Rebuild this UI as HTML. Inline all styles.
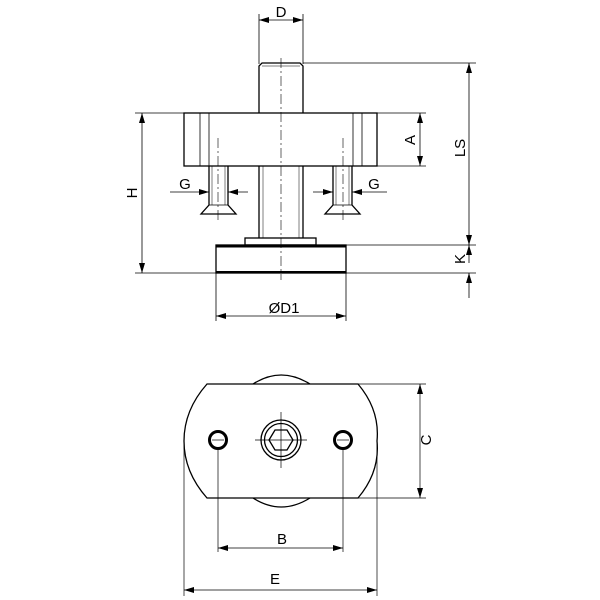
<!DOCTYPE html>
<html><head><style>html,body{margin:0;padding:0;background:#fff}svg{display:block}</style></head><body>
<svg width="600" height="600" viewBox="0 0 600 600" xmlns="http://www.w3.org/2000/svg" font-family="Liberation Sans, sans-serif">
<defs>
<marker id="a" viewBox="0 0 10 6" refX="10" refY="3" markerWidth="10" markerHeight="6" orient="auto-start-reverse" markerUnits="userSpaceOnUse"><path d="M0,0 L10,3 L0,6z" fill="#000"/></marker>
</defs>
<g stroke="#000" fill="none" stroke-width="0.8">
<line x1="259" y1="14" x2="259" y2="64"/><line x1="303" y1="14" x2="303" y2="64"/>
<line x1="303" y1="63" x2="476" y2="63"/>
<line x1="135" y1="113" x2="184" y2="113"/><line x1="377" y1="113" x2="426" y2="113"/>
<line x1="377" y1="166" x2="426" y2="166"/>
<line x1="135" y1="273" x2="476" y2="273"/>
<line x1="346" y1="245" x2="476" y2="245"/>
<line x1="216" y1="273" x2="216" y2="321"/><line x1="346" y1="273" x2="346" y2="321"/>
<line x1="259" y1="20" x2="303" y2="20" marker-start="url(#a)" marker-end="url(#a)"/>
<line x1="142" y1="113" x2="142" y2="273" marker-start="url(#a)" marker-end="url(#a)"/>
<line x1="420" y1="113" x2="420" y2="166" marker-start="url(#a)" marker-end="url(#a)"/>
<line x1="469" y1="63" x2="469" y2="245" marker-start="url(#a)" marker-end="url(#a)"/>
<line x1="469" y1="245" x2="469" y2="263" marker-start="url(#a)"/>
<line x1="469" y1="298" x2="469" y2="273" marker-end="url(#a)"/>
<line x1="216" y1="316" x2="346" y2="316" marker-start="url(#a)" marker-end="url(#a)"/>
<line x1="170" y1="192" x2="209" y2="192" marker-end="url(#a)"/><line x1="248" y1="192" x2="228" y2="192" marker-end="url(#a)"/>
<line x1="313" y1="192" x2="333" y2="192" marker-end="url(#a)"/><line x1="387" y1="192" x2="352" y2="192" marker-end="url(#a)"/>
</g>
<g stroke="#000" fill="none" stroke-width="1.3">
<path d="M259,113 V66 L262,63 H300 L303,66 V113"/>
<line x1="262" y1="66" x2="300" y2="66" stroke-width="0.6"/>
<rect x="184" y="113" width="193" height="53"/>
<line x1="259" y1="166" x2="259" y2="238"/><line x1="303" y1="166" x2="303" y2="238"/>
<rect x="245" y="238" width="71" height="7"/>
<rect x="216" y="245" width="130" height="28"/>
<line x1="216" y1="246.5" x2="346" y2="246.5" stroke-width="2"/>
<line x1="216" y1="272" x2="346" y2="272" stroke-width="2"/>
<path d="M209,166 V205 L201,214 H236 L228,205 V166"/><line x1="209" y1="205" x2="228" y2="205" stroke-width="0.8"/>
<path d="M333,166 V205 L325,214 H360 L352,205 V166"/><line x1="333" y1="205" x2="352" y2="205" stroke-width="0.8"/>
</g>
<g stroke="#000" fill="none" stroke-width="0.8">
<line x1="200" y1="113" x2="200" y2="166"/><line x1="209" y1="113" x2="209" y2="166"/>
<line x1="353" y1="113" x2="353" y2="166"/><line x1="362" y1="113" x2="362" y2="166"/>
<line x1="263" y1="166" x2="263" y2="238" stroke-width="0.5"/><line x1="299" y1="166" x2="299" y2="238" stroke-width="0.5"/>
<line x1="212" y1="166" x2="212" y2="205" stroke-width="0.5"/><line x1="225" y1="166" x2="225" y2="205" stroke-width="0.5"/>
<line x1="336" y1="166" x2="336" y2="205" stroke-width="0.5"/><line x1="349" y1="166" x2="349" y2="205" stroke-width="0.5"/>
<g stroke-dasharray="10,3,2,3" stroke-width="0.6">
<line x1="281" y1="58" x2="281" y2="280"/>
<line x1="218" y1="138" x2="218" y2="222"/>
<line x1="343" y1="138" x2="343" y2="222"/>
</g>
</g>
<g stroke="#000" fill="none" stroke-width="1.3">
<path d="M253,384 Q281,366 310,384"/>
<path d="M253,498 Q281,516 310,498"/>
<path d="M207,384 H358 Q380,410 377,441 Q380,472 358,498 H207 Q184,472 184,441 Q184,410 207,384Z" fill="#fff"/>
<circle cx="218" cy="440" r="8.5" stroke-width="3"/>
<circle cx="343" cy="440" r="8.5" stroke-width="3"/>
<circle cx="281" cy="440" r="20"/>
<circle cx="281" cy="440" r="16.5"/>
<path d="M269,440 L275,430 H287 L293,440 L287,450 H275Z"/>
</g>
<g stroke="#000" fill="none" stroke-width="0.7">
<line x1="255" y1="440" x2="307" y2="440"/><line x1="281" y1="412" x2="281" y2="468"/>
<line x1="212" y1="440" x2="224" y2="440"/><line x1="337" y1="440" x2="349" y2="440"/>
<line x1="218" y1="448" x2="218" y2="552"/><line x1="343" y1="448" x2="343" y2="552"/>
<line x1="358" y1="384" x2="426" y2="384"/><line x1="358" y1="498" x2="426" y2="498"/>
<line x1="184" y1="441" x2="184" y2="596"/><line x1="377" y1="441" x2="377" y2="596"/>
<line x1="420" y1="384" x2="420" y2="498" marker-start="url(#a)" marker-end="url(#a)"/>
<line x1="218" y1="548" x2="343" y2="548" marker-start="url(#a)" marker-end="url(#a)"/>
<line x1="184" y1="590" x2="377" y2="590" marker-start="url(#a)" marker-end="url(#a)"/>
</g>
<g fill="#000" font-size="15">
<text x="281" y="17" text-anchor="middle">D</text>
<text x="185" y="189" text-anchor="middle">G</text>
<text x="374" y="189" text-anchor="middle">G</text>
<text x="284" y="313" text-anchor="middle">ØD1</text>
<text x="282" y="544" text-anchor="middle">B</text>
<text x="275" y="584" text-anchor="middle">E</text>
<text transform="translate(137,193) rotate(-90)" text-anchor="middle">H</text>
<text transform="translate(415,140) rotate(-90)" text-anchor="middle">A</text>
<text transform="translate(465,148) rotate(-90)" text-anchor="middle">LS</text>
<text transform="translate(465,259) rotate(-90)" text-anchor="middle">K</text>
<text transform="translate(431,440) rotate(-90)" text-anchor="middle">C</text>
</g>
</svg>
</body></html>
